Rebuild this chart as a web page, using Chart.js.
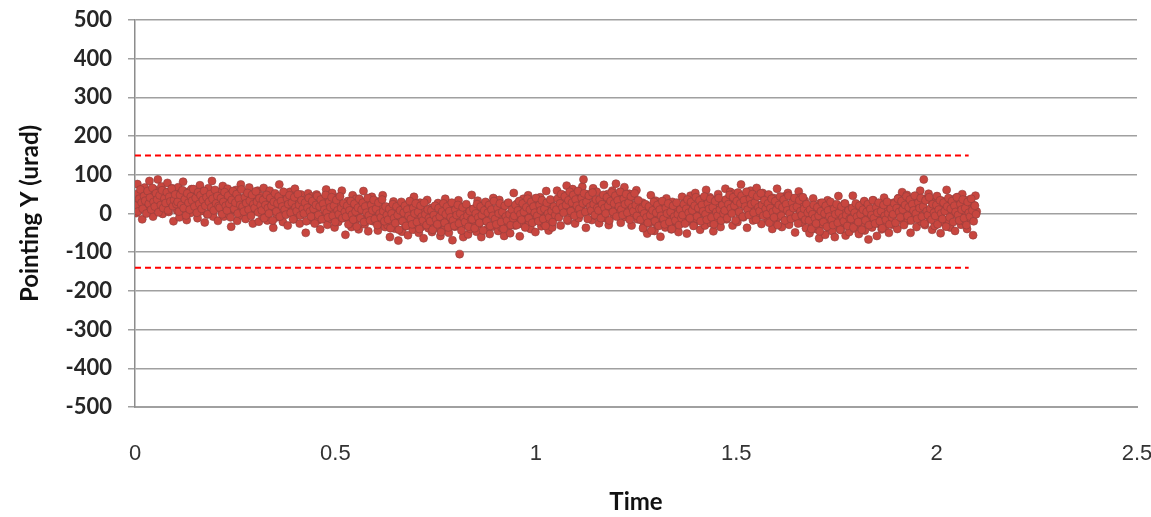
<!DOCTYPE html>
<html>
<head>
<meta charset="utf-8">
<title>Pointing Y</title>
<script src="https://cdn.jsdelivr.net/npm/chart.js@4.4.1/dist/chart.umd.min.js"></script>
<style>
  body { margin: 0; background: #fff; }
  #wrap { width: 1151px; height: 517px; }
</style>
</head>
<body>
<div id="wrap"><canvas id="myChart" width="1151" height="517"></canvas></div>
<script>
// samples are taken every 0.003 time units; the second run sits half a step later
const sampleStep = 0.003;

// pointing Y values (urad) (35 samples per row)
const pointingY = [
  44, 1, 76, 35, 14, 59, -15, 40, 67, 23, 53, 7, 84, 29, 48, -8, 62, 37, 18, 88, 10, 41, 70, -1, 32, 56, 21, 79, 4, 46, 26, 65, -20, 51, 38,
  8, 68, -10, 53, 25, 82, 11, 38, -17, 56, 29, 1, 63, 19, 45, 20, 52, -12, 42, 73, 6, 31, 58, -23, 40, -2, 65, 28, 15, 84, -8, 49, 23, 37, -19,
  56, 29, 5, 71, -8, 39, 21, 64, -2, 50, -34, 28, 45, 9, 61, -19, 42, 16, 75, -5, 33, 22, -14, 54, 12, 67, 2, 48, -26, 31, 42, 7, 59, -21, 27,
  45, -7, 66, 11, 30, -18, 40, 59, 5, 18, -37, 47, 32, -10, 24, 75, -2, 43, -22, 28, 13, 51, -31, 37, 56, 7, 20, -15, 64, -5, 31, 17, -26, 49, 2,
  34, 18, -50, 27, 52, 1, -17, 44, 11, -8, 5, 49, -18, 25, -41, 17, 38, 30, -5, 62, -29, 14, 26, -14, 53, 0, -36, 35, 21, -22, 44, 7, 59, -11, 16,
  -55, 25, 32, -12, 3, -35, 47, 15, -24, 38, 0, -41, 21, 10, -15, 58, -28, 7, 34, -46, 16, -5, 43, -20, 28, -12, 31, -44, -3, 18, -27, 47, -8, -35, 9,
  -30, 16, -61, -6, -25, 31, -39, -14, 5, -70, 13, -18, -47, 24, -9, -33, 2, -56, 19, -23, -3, -42, 43, -28, -15, 10, -50, 28, -35, -7, -64, 7, -20, 35, -38,
  -14, 14, -48, -4, -30, -5, -37, 27, -27, -58, 9, -16, -43, 38, -25, 17, -50, -13, 0, -69, 23, -34, -8, -22, 34, -105, -19, 5, -61, 18, -29, -11, -54, 12, -40,
  48, -14, -31, 5, -47, 33, -28, -2, -61, 19, -19, -8, 28, -40, 2, -53, 12, -34, 40, -17, -28, 7, -45, 35, -13, -37, 15, -58, -3, -22, 26, -32, -51, 3, -10,
  53, -31, -16, 26, -8, -59, 18, -27, 38, -12, 3, -35, 47, -21, -40, 9, -4, 31, -48, 21, -15, -1, 42, -33, 14, -26, -10, 58, -19, -44, 7, 25, -36, -3, 16,
  15, 59, -8, 35, -31, 27, 48, 40, 5, 72, -19, 24, 36, -4, 63, 10, -26, 45, 31, -12, 54, 17, 69, 88, 26, -37, 43, 50, 6, 21, -17, 65, 33, -6, 56,
  16, -25, 37, 26, 1, 74, -12, 23, 50, -30, 32, 11, 59, -4, 44, 77, 2, 21, 46, -24, 32, 13, 68, -9, 37, 7, 51, 24, -31, 43, -2, 19, 60, -15, 28,
  10, -16, 28, -34, -6, 21, -52, 3, -24, 47, -10, 18, -45, 33, -27, -2, 11, -60, 25, -14, 6, -36, 39, -19, 16, -8, -41, 30, 1, -30, -20, 15, -48, 4, -12,
  43, -9, 27, 10, -52, 32, -20, 46, 3, 21, -26, 53, -13, 11, 38, -42, 14, 0, 26, -31, 61, -8, 5, 42, -25, 17, -46, 35, 8, -17, 50, 19, -35, 29, -3,
  -5, 64, -15, 20, 7, 56, 37, -31, 51, 13, 28, -22, 43, -2, 75, 24, -10, 32, 47, -37, 18, 5, 59, 40, -18, 30, 11, 66, -7, 45, 21, -27, 53, 1, 36,
  34, -14, 49, 1, 22, -40, 40, 13, -22, 64, -9, 16, 27, -35, 6, 44, -18, 21, 53, -29, 9, -6, 38, 31, -49, 14, -13, 57, 5, 42, -24, 19, 33, -38, -2,
  -7, -51, 16, -27, 39, -19, -40, -32, 3, -64, 27, -16, -28, 12, -55, -2, 34, -37, -23, 20, -46, -9, -61, 9, -18, 45, -35, -42, 2, -13, 25, -57, -25, 14, -48,
  -12, -25, 46, -39, 0, -20, 22, -53, 5, -30, -6, 27, -44, -15, 16, -67, 8, -11, -36, 34, -22, -3, -58, 19, -27, 3, -41, -14, 41, -33, 12, -9, -50, 25, -18,
  -29, 28, 2, 16, -40, 40, 13, -11, 55, -24, 23, 5, 48, -18, 34, -50, 12, 29, -7, 45, -35, 26, 0, 59, -21, 17, 88, -30, 38, -4, 51, -14, 32, -42, 15,
  -32, 26, 45, -9, 4, -51, 33, 18, -24, 10, 61, -16, 29, -36, 14, -1, 37, -45, 23, 42, -7, 6, -29, 50, -19, 17, 3, -40, 35, -12, 28, 12, -56, 21, 46,
  5
];

// the in-between samples (the dense core of the band)
const pointingYMid = [
  20, 50, 5, 38, 62, 28, 12, 45, 33, 0, 58, 25, 41, 10, 66, 30, 18, 52, 36, 3, 47, 22, 60, 14, 39, 27, 55, 8, 43, 31, 64, 19, 35, 49, 24,
  30, 5, 48, 22, 60, 14, 37, -5, 52, 28, 10, 44, 33, 63, 18, 40, 2, 55, 25, 47, 12, 35, 58, 20, 42, -2, 30, 50, 16, 38, 8, 61, 26, 45, 19,
  15, 40, -2, 30, 55, 20, 8, 46, 25, -10, 35, 58, 12, 28, 50, 0, 38, 22, 62, 18, 5, 42, 27, 53, 10, 33, -6, 48, 24, 14, 57, 30, 3, 39, 21,
  8, 35, -12, 22, 48, 14, 0, 40, 20, -18, 30, 52, 5, 26, 44, -8, 32, 18, 56, 10, -3, 38, 24, 47, 2, 28, -15, 42, 16, 6, 50, 22, -5, 34, 12,
  0, 28, -20, 15, 40, 5, -8, 32, 12, -26, 22, 45, -4, 18, 36, -15, 25, 10, 48, 2, -10, 30, 16, 42, -6, 20, -22, 35, 8, -2, 44, 14, -12, 26, 4,
  -8, 20, -28, 8, 32, -3, -16, 25, 5, -34, 15, 38, -12, 10, 28, -22, 18, 2, 40, -5, -18, 22, 8, 35, -14, 12, -30, 28, 0, -10, 36, 6, -20, 18, -4,
  -16, 12, -38, 0, 24, -12, -25, 18, -4, -42, 8, 30, -20, 2, 20, -32, 10, -6, 32, -14, -28, 14, 0, 26, -22, 4, -40, 20, -8, -18, 28, -2, -30, 10, -12,
  -20, 8, -42, -4, 20, -15, -28, 14, -8, -48, 5, 26, -24, -2, 18, -36, 6, -10, 28, -18, -32, 10, -4, 22, -26, 0, -44, 16, -12, -22, 24, -6, -34, 6, -16,
  -15, 12, -38, 0, 24, -10, -24, 18, -4, -44, 8, 30, -20, 2, 22, -32, 10, -6, 32, -14, -28, 14, 0, 26, -22, 4, -40, 20, -8, -18, 28, -2, -30, 10, -12,
  -6, 22, -30, 8, 32, -2, -16, 26, 4, -36, 16, 38, -12, 10, 30, -24, 18, 2, 40, -6, -20, 22, 8, 34, -14, 12, -32, 28, 0, -10, 36, 6, -22, 18, -4,
  10, 38, -10, 26, 50, 16, 2, 44, 22, -16, 34, 56, 6, 28, 48, -6, 36, 20, 58, 12, -2, 40, 26, 52, 4, 30, -14, 46, 18, 8, 54, 24, -4, 36, 14,
  8, 36, -12, 24, 48, 14, 0, 42, 20, -18, 32, 54, 4, 26, 46, -8, 34, 18, 56, 10, -4, 38, 24, 50, 2, 28, -16, 44, 16, 6, 52, 22, -6, 34, 12,
  -16, 12, -38, 0, 24, -10, -24, 18, -4, -44, 8, 30, -20, 2, 22, -32, 10, -6, 32, -14, -28, 14, 0, 26, -22, 4, -40, 20, -8, -18, 28, -2, -30, 10, -12,
  -4, 24, -26, 12, 36, 2, -12, 30, 8, -32, 20, 42, -8, 14, 34, -20, 22, 6, 44, -2, -16, 26, 12, 38, -10, 16, -28, 32, 4, -6, 40, 10, -18, 22, 0,
  8, 36, -12, 24, 48, 14, 0, 42, 20, -18, 32, 54, 4, 26, 46, -8, 34, 18, 56, 10, -4, 38, 24, 50, 2, 28, -16, 44, 16, 6, 52, 22, -6, 34, 12,
  -2, 26, -24, 14, 38, 4, -10, 32, 10, -30, 22, 44, -6, 16, 36, -18, 24, 8, 46, 0, -14, 28, 14, 40, -8, 18, -26, 34, 6, -4, 42, 12, -16, 24, 2,
  -18, 10, -40, -2, 22, -12, -26, 16, -6, -46, 6, 28, -22, 0, 20, -34, 8, -8, 30, -16, -30, 12, -2, 24, -24, 2, -42, 18, -10, -20, 26, -4, -32, 8, -14,
  -14, 14, -36, 2, 26, -8, -22, 20, -2, -42, 10, 32, -18, 4, 24, -30, 12, -4, 34, -12, -26, 16, 2, 28, -20, 6, -38, 22, -6, -16, 30, 0, -28, 12, -10,
  -2, 26, -24, 14, 38, 4, -10, 32, 10, -30, 22, 44, -6, 16, 36, -18, 24, 8, 46, 0, -14, 28, 14, 40, -8, 18, -26, 34, 6, -4, 42, 12, -16, 24, 2,
  -6, 22, -28, 10, 34, 0, -14, 28, 6, -34, 18, 40, -10, 12, 32, -22, 20, 4, 42, -4, -18, 24, 10, 36, -12, 14, -30, 30, 2, -8, 38, 8, -20, 20, -2
];

// dashed limit lines
const limitX = [0, 2.08];
const upperLimit = [150, 150];
const lowerLimit = [-140, -140];

// axis ranges
const xTicks = [0, 0.5, 1, 1.5, 2, 2.5];
const yMin = -500, yMax = 500, yStep = 100;

let points = pointingY.map((v, i) => ({ x: +(i * sampleStep).toFixed(4), y: v }));
pointingYMid.forEach((v, i) => points.push({ x: +((i + 0.5) * sampleStep).toFixed(4), y: v }));

const ctx = document.getElementById('myChart').getContext('2d');
const myChart = new Chart(ctx, {
    type: 'scatter',
    data: {
        datasets: [
            {
                label: 'Pointing Y',
                data: points,
                pointRadius: 4,
                pointBackgroundColor: '#C8463F',
                pointBorderColor: 'rgba(145,62,60,0.6)',
                pointBorderWidth: 1,
                order: 2
            },
            {
                label: 'upper',
                type: 'line',
                data: limitX.map((x, i) => ({ x: x, y: upperLimit[i] })),
                borderColor: '#FF0000',
                borderWidth: 2,
                borderDash: [6, 4],
                pointRadius: 0,
                fill: false,
                order: 1
            },
            {
                label: 'lower',
                type: 'line',
                data: limitX.map((x, i) => ({ x: x, y: lowerLimit[i] })),
                borderColor: '#FF0000',
                borderWidth: 2,
                borderDash: [6, 4],
                pointRadius: 0,
                fill: false,
                order: 1
            }
        ]
    },
    options: {
        responsive: false,
        animation: false,
        layout: { padding: { left: 0, right: 14, top: 20, bottom: 0 } },
        plugins: {
            legend: { display: false },
            tooltip: { enabled: false }
        },
        scales: {
            x: {
                type: 'linear',
                min: 0,
                max: 2.5,
                afterBuildTicks: (scale) => { scale.ticks = xTicks.map(v => ({ value: v })); },
                afterFit: (scale) => {
                    scale.height = 110;
                    scale.paddingLeft = 0;
                    scale.paddingRight = 0;
                },
                grid: { display: false, drawTicks: false },
                border: { color: '#a0a0a0', width: 2 },
                ticks: {
                    padding: 34,
                    color: '#333',
                    font: { family: 'Liberation Sans', size: 22 },
                    callback: (v) => String(v)
                },
                title: {
                    display: true,
                    text: 'Time',
                    color: '#111',
                    font: { family: 'Lato', size: 24, weight: 'bold' },
                    padding: { top: 0, bottom: 0 }
                }
            },
            y: {
                min: yMin,
                max: yMax,
                afterFit: (scale) => {
                    scale.width = 135;
                    scale.paddingTop = 0;
                    scale.paddingBottom = 0;
                },
                ticks: {
                    stepSize: yStep,
                    padding: 16,
                    color: '#262626',
                    font: { family: 'Lato', size: 22, weight: 'bold' }
                },
                grid: { color: '#a0a0a0', lineWidth: 1.5, tickLength: 7 },
                border: { color: '#8c8c8c', width: 1.5 },
                title: {
                    display: true,
                    text: 'Pointing Y (urad)',
                    color: '#111',
                    font: { family: 'Lato', size: 24, weight: 'bold' },
                    padding: { top: 16, bottom: 0 }
                }
            }
        }
    }
});
</script>
</body>
</html>
